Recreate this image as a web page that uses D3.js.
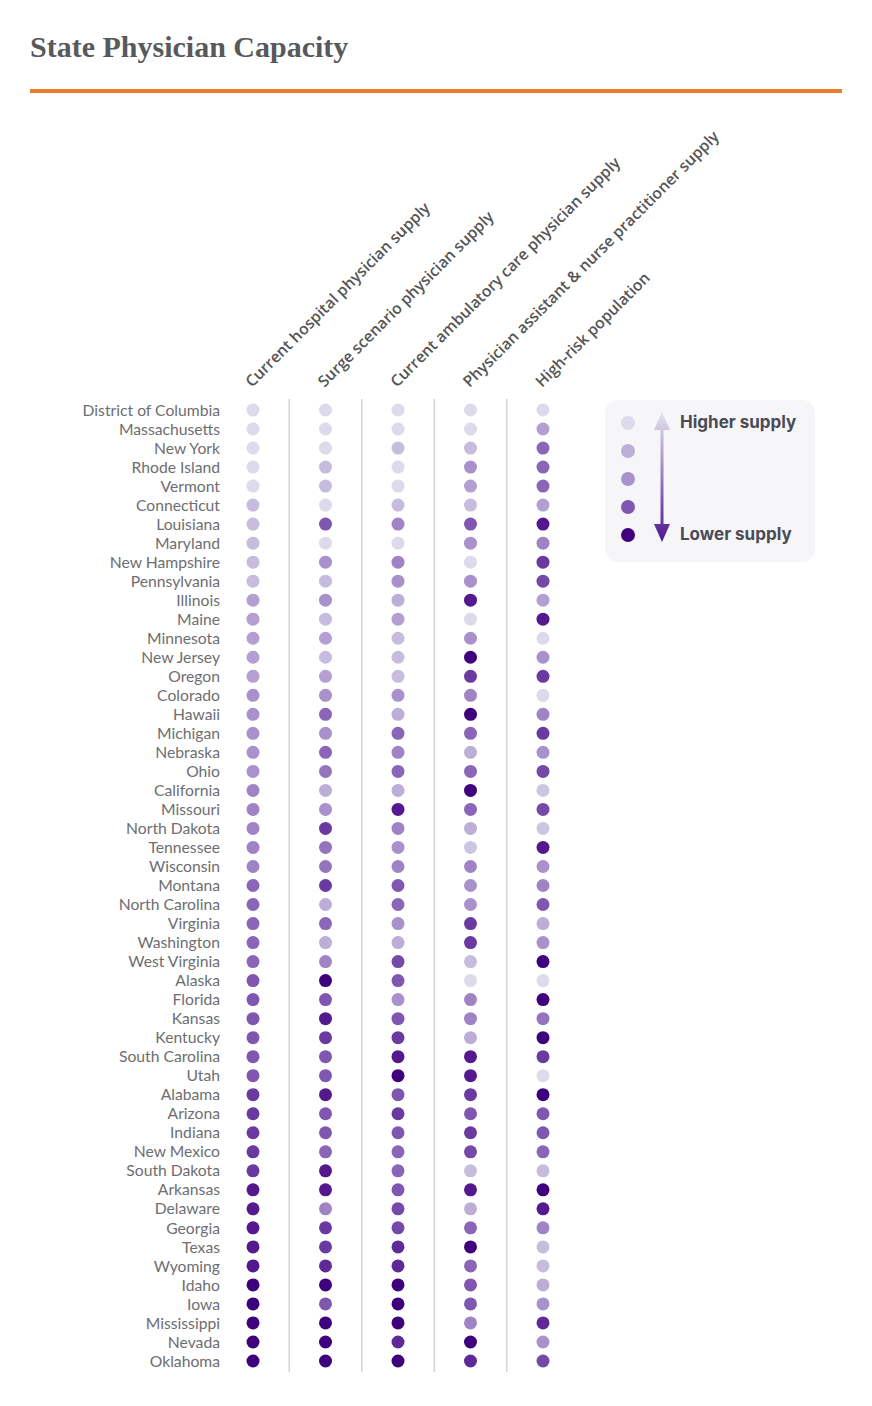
<!DOCTYPE html>
<html>
<head>
<meta charset="utf-8">
<script src="https://cdn.jsdelivr.net/npm/d3@7"></script>
<style>
  body { margin: 0; background: #fff; }
  svg { display: block; }
</style>
</head>
<body>
<div id="chart"></div>
<script>
// state order as shown, top to bottom
const states = ["District of Columbia","Massachusetts","New York","Rhode Island","Vermont","Connecticut",
  "Louisiana","Maryland","New Hampshire","Pennsylvania","Illinois","Maine","Minnesota","New Jersey","Oregon",
  "Colorado","Hawaii","Michigan","Nebraska","Ohio","California","Missouri","North Dakota","Tennessee",
  "Wisconsin","Montana","North Carolina","Virginia","Washington","West Virginia","Alaska","Florida","Kansas",
  "Kentucky","South Carolina","Utah","Alabama","Arizona","Indiana","New Mexico","South Dakota","Arkansas",
  "Delaware","Georgia","Texas","Wyoming","Idaho","Iowa","Mississippi","Nevada","Oklahoma"];

const columns = ["Current hospital physician supply","Surge scenario physician supply",
  "Current ambulatory care physician supply","Physician assistant & nurse practitioner supply",
  "High-risk population"];

// shade level per dot, 1 = higher supply (light) ... 9 = lower supply (dark)
const hospital = [1,1,1,1,1,2.5,2.5,2.5,2.5,2.5,3.5,3.5,3.5,3.5,3.5,4,4,4,4,4,4.5,4.5,4.5,4.5,4.5,5.5,
  5.5,5.5,5.5,5.5,6,6,6,6,6,6,7,7,7,7,7,8,8,8,8,8,9,9,9,9,9];
const surge = [1,1,1,2.5,2.5,1,6,1,4,2.5,4,2.5,3.5,2.5,3.5,4,5.5,4,5.5,5,3,4,7,5,5,7,
  3,5.5,3,4.5,9,6,8,7,6,6,8,6,6,5.5,8,8,4.5,7,7,7.5,9,6,9,9,9];
const ambulatory = [1,1,2.5,1,1,2.5,4.5,1,4.5,4,3,3.5,2.5,2.5,2.5,4,3,5.5,4.5,5.5,3,8,4.5,4,4.5,6,
  5.5,4,3,6.5,6,4,6,7,8,9,6,7,6,5.5,5.5,6,6.5,6.5,7.5,7.5,9,9,9,7.5,9];
const paNp = [1,1,2.5,4,3.5,2.5,6,4,1,4,8,1,4,9,7,4.5,9,5.5,3,5.5,9,5.5,3,2,4.5,4,
  4,7,7,2.5,1,4.5,4.5,3,8,8,7,6,7,6.5,2.5,8,3,5.5,9,5.5,6,6,4.5,9,7.5];
const highRisk = [1,3.5,5.5,5.5,5.5,3.5,8,4.5,7,6.5,3.5,8,1,4,7,1,4.5,7,4,6.5,2,6.5,2,8,4,4.5,
  6,3,4,9,1,9,5,9,7,1,9,6,6,5.5,2.5,9,8,4.5,2.5,2.5,3,4,7.5,4,6.5];

const series = [hospital, surge, ambulatory, paNp, highRisk];
const legendLevels = [1, 3, 4, 6, 9];

const width = 872, height = 1406;
const svg = d3.select("#chart").append("svg").attr("width", width).attr("height", height);

const color = d3.scaleLinear()
  .domain([1, 2.5, 4, 5.5, 7, 8, 9])
  .range(["#dcdaeb", "#c6bcdd", "#a991cb", "#8b66b8", "#6a3aa0", "#54198f", "#3f007d"]);

const x = d3.scalePoint().domain(columns).range([253, 543]);
const y = d3.scalePoint().domain(states).range([410, 1361]);
const step = x(columns[1]) - x(columns[0]);

// title + rule
svg.append("text").attr("x", 30).attr("y", 57)
  .attr("font-family", "Liberation Serif, serif").attr("font-weight", "bold")
  .attr("font-size", 30).attr("fill", "#58595b")
  .text("State Physician Capacity");
svg.append("rect").attr("x", 30).attr("y", 89).attr("width", 812).attr("height", 4).attr("fill", "#ec7d2d");

// column separators
svg.append("g").selectAll("line").data(columns.slice(1)).join("line")
  .attr("x1", d => x(d) - step / 2).attr("x2", d => x(d) - step / 2)
  .attr("y1", 399).attr("y2", 1372)
  .attr("stroke", "#d4d4d8").attr("stroke-width", 1.5);

// column headers
svg.append("g").selectAll("text").data(columns).join("text")
  .attr("transform", d => `translate(${x(d) - 1},${388}) rotate(-45)`)
  .attr("font-family", "Open Sans, sans-serif").attr("font-weight", 600)
  .attr("font-size", 15.7).attr("fill", "#555")
  .text(d => d);

// row labels
svg.append("g").selectAll("text").data(states).join("text")
  .attr("x", 220).attr("y", d => y(d)).attr("dy", "0.36em")
  .attr("text-anchor", "end")
  .attr("font-family", "Lato, sans-serif").attr("font-size", 15.7).attr("fill", "#6d6e71")
  .text(d => d);

// dots
series.forEach((vals, ci) => {
  svg.append("g").selectAll("circle").data(vals).join("circle")
    .attr("cx", x(columns[ci])).attr("cy", (d, i) => y(states[i]))
    .attr("r", 6.5).attr("fill", d => color(d));
});

// legend
const lg = svg.append("g").attr("transform", "translate(605,400)");
lg.append("rect").attr("width", 210).attr("height", 162).attr("rx", 13).attr("fill", "#f6f6f8");
const ly = d3.scalePoint().domain(legendLevels).range([23, 135]);
lg.selectAll("circle").data(legendLevels).join("circle")
  .attr("cx", 23).attr("cy", d => ly(d)).attr("r", 7).attr("fill", d => color(d));

const defs = svg.append("defs");
const grad = defs.append("linearGradient").attr("id", "arrowGrad")
  .attr("gradientUnits", "userSpaceOnUse").attr("x1", 0).attr("y1", 12).attr("x2", 0).attr("y2", 142);
grad.append("stop").attr("offset", "0%").attr("stop-color", "#e4e2f0");
grad.append("stop").attr("offset", "100%").attr("stop-color", "#4e1690");

lg.append("rect").attr("x", 55.5).attr("y", 28).attr("width", 3).attr("height", 100).attr("fill", "url(#arrowGrad)");
lg.append("path").attr("d", "M57,12 L65,30 L49,30 Z").attr("fill", "url(#arrowGrad)");
lg.append("path").attr("d", "M57,142 L65,124 L49,124 Z").attr("fill", "url(#arrowGrad)");

lg.append("text").attr("x", 75).attr("y", 22).attr("dy", "0.35em")
  .attr("font-family", "Inter, sans-serif").attr("font-weight", 700).attr("font-size", 17).attr("fill", "#4a4b55")
  .text("Higher supply");
lg.append("text").attr("x", 75).attr("y", 134).attr("dy", "0.35em")
  .attr("font-family", "Inter, sans-serif").attr("font-weight", 700).attr("font-size", 17).attr("fill", "#4a4b55")
  .text("Lower supply");
</script>
</body>
</html>
